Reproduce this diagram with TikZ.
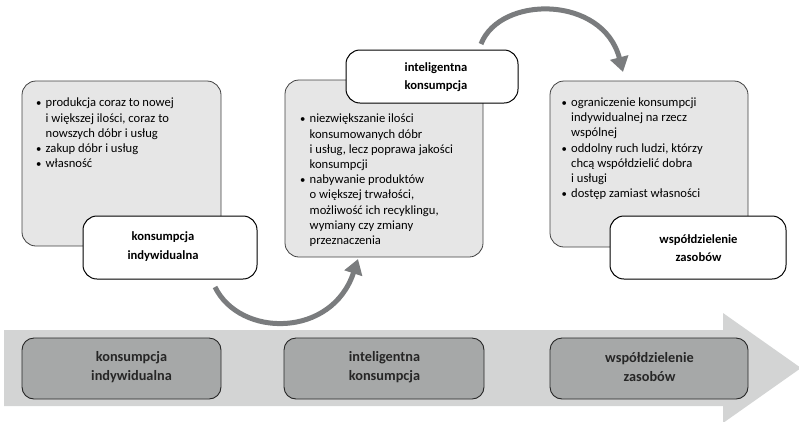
\documentclass[tikz,border=0pt]{standalone}
\usepackage{fontspec}
\setmainfont{Carlito}
\usetikzlibrary{arrows.meta}
\definecolor{boxgray}{HTML}{E6E6E6}
\definecolor{bandgray}{HTML}{D3D4D4}
\definecolor{stepgray}{HTML}{A6A8A8}
\definecolor{arrowgray}{HTML}{7A7C7E}
\newcommand{\bitem}{\par\hangindent=10pt\hangafter=1\noindent\makebox[10pt][l]{\hspace{0.5pt}\scalebox{0.85}{\textbullet}}}
\tikzset{
  infobox/.style={draw=black!75, line width=0.8pt, fill=boxgray, rounded corners=14pt},
  labelbox/.style={draw=black, line width=1pt, fill=white, rounded corners=14pt},
  stepbox/.style={draw=black!85, line width=0.9pt, fill=stepgray, rounded corners=12pt},
  labeltext/.style={align=center, font=\fontsize{12.6}{18.5}\selectfont\bfseries},
  steptext/.style={align=center, font=\fontsize{14.3}{19}\selectfont\bfseries, text=black!85},
  listtext/.style={anchor=north west, inner sep=0pt, font=\fontsize{12.6}{15.2}\selectfont},
  curvearrow/.style={draw=arrowgray, line width=5pt, -{Triangle[length=15pt,width=18pt]}}
}
\begin{document}
\begin{tikzpicture}[x=1pt,y=-1pt]
\useasboundingbox (0,0) rectangle (799,421);
% bottom band arrow
\fill[bandgray] (4,330) -- (723,330) -- (723,313) -- (801,368) -- (723,423) -- (723,406) -- (4,406) -- cycle;
\node[stepbox, minimum width=199pt, minimum height=61pt] (s1) at (121.5,368.5) {};
\node[steptext] (s1t) at (131.5,367) {konsumpcja\\indywidualna};
\node[stepbox, minimum width=200pt, minimum height=61pt] (s2) at (384,368.5) {};
\node[steptext] (s2t) at (384.5,367) {inteligentna\\konsumpcja};
\node[stepbox, minimum width=198pt, minimum height=61pt] (s3) at (649,368.5) {};
\node[steptext] (s3t) at (649.5,367) {współdzielenie\\zasobów};
% box 1
\node[infobox, minimum width=199pt, minimum height=165pt] (b1) at (121.5,163.5) {};
\node[listtext] (b1t) at (35.5,98) {\begin{minipage}{180pt}
\bitem produkcja coraz to nowej\\i większej ilości, coraz to\\nowszych dóbr i usług
\bitem zakup dóbr i usług
\bitem własność
\end{minipage}};
\node[labelbox, minimum width=174pt, minimum height=63pt] (l1) at (170,247.5) {};
\node[labeltext] (l1t) at (163,246.5) {konsumpcja\\indywidualna};
% box 2
\node[infobox, minimum width=198pt, minimum height=177pt] (b2) at (384,168.5) {};
\node[listtext] (b2t) at (299.5,114) {\begin{minipage}{180pt}
\bitem niezwiększanie ilości\\konsumowanych dóbr\\i usług, lecz poprawa jakości\\konsumpcji
\bitem nabywanie produktów\\o większej trwałości,\\możliwość ich recyklingu,\\wymiany czy zmiany\\przeznaczenia
\end{minipage}};
\node[labelbox, minimum width=172pt, minimum height=53pt] (l2) at (432,76.5) {};
\node[labeltext] (l2t) at (436,77) {inteligentna\\konsumpcja};
% box 3
\node[infobox, minimum width=198pt, minimum height=166pt] (b3) at (649,164) {};
\node[listtext] (b3t) at (561,97.5) {\begin{minipage}{180pt}
\bitem ograniczenie konsumpcji\\indywidualnej na rzecz\\wspólnej
\bitem oddolny ruch ludzi, którzy\\chcą współdzielić dobra\\i usługi
\bitem dostęp zamiast własności
\end{minipage}};
\node[labelbox, minimum width=176pt, minimum height=63pt] (l3) at (698,247.5) {};
\node[labeltext] (l3t) at (698.5,248) {współdzielenie\\zasobów};
% curved arrows
\coordinate (c1s) at (215,287);
\coordinate (c1e) at (358,259);
\coordinate (c2s) at (481,44);
\coordinate (c2e) at (623,72);
\draw[curvearrow] (c1s) .. controls (240,338) and (332,338) .. (c1e);
\draw[curvearrow] (c2s) .. controls (500,-5) and (603,-5) .. (c2e);
\end{tikzpicture}
\end{document}
